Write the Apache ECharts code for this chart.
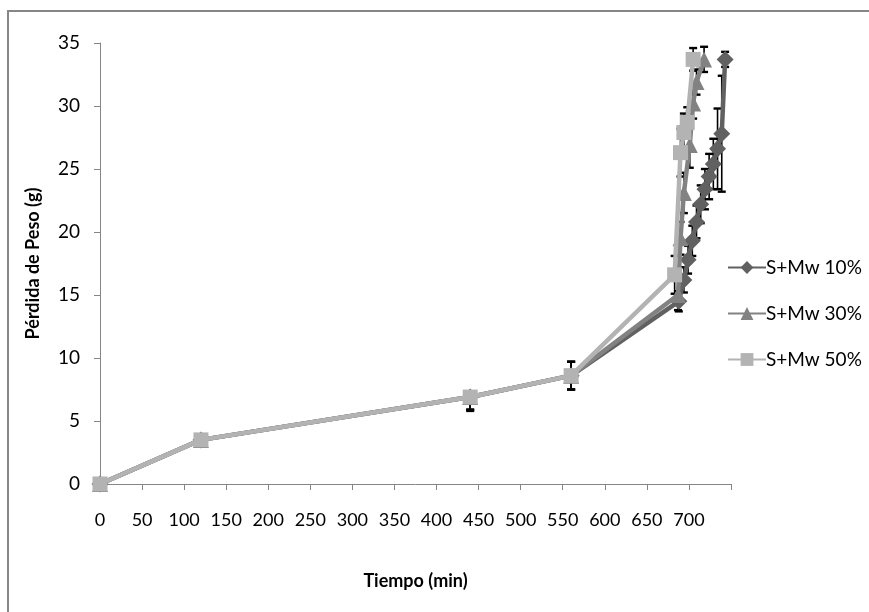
<!DOCTYPE html>
<html>
<head>
<meta charset="utf-8">
<script src="https://cdn.jsdelivr.net/npm/echarts@6/dist/echarts.min.js"></script>
<style>
  html, body { margin: 0; padding: 0; background: #fff; }
  #chart { width: 869px; height: 612px; }
</style>
</head>
<body>
<div id="chart"></div>
<script>
// Weight loss over drying time, three microwave power levels, with error bars
const seriesNames = ['S+Mw 10%', 'S+Mw 30%', 'S+Mw 50%'];

const time10  = [0, 120, 440, 560, 688, 694, 699, 704, 709, 714, 719, 724, 729, 734, 739, 743];
const loss10  = [0, 3.5, 6.9, 8.6, 14.5, 16.2, 17.8, 19.3, 20.8, 22.2, 23.4, 24.4, 25.4, 26.6, 27.8, 33.7];
const errUp10 = [0, 0, 0.3, 1.1, 0.8, 1.0, 1.1, 1.2, 1.3, 1.5, 1.6, 1.8, 2.0, 3.2, 4.6, 0.6];
const errDn10 = [0, 0, 1.1, 1.1, 0.8, 1.0, 1.1, 1.2, 1.3, 1.5, 1.6, 1.8, 2.0, 3.2, 4.6, 0.6];

const time30  = [0, 120, 440, 560, 687, 690, 694, 701, 705, 709, 718];
const loss30  = [0, 3.5, 6.9, 8.6, 15.0, 19.5, 23.1, 26.9, 30.2, 31.9, 33.7];
const errUp30 = [0, 0, 0.3, 1.1, 1.2, 1.3, 1.6, 1.8, 1.2, 1.0, 1.0];
const errDn30 = [0, 0, 1.0, 1.1, 1.2, 1.3, 1.6, 1.8, 1.2, 1.0, 1.0];

const time50  = [0, 120, 440, 560, 683, 690, 694, 698, 705];
const loss50  = [0, 3.5, 6.9, 8.6, 16.6, 26.3, 27.9, 28.7, 33.7];
const errUp50 = [0, 0, 0.3, 1.1, 1.5, 1.9, 1.5, 1.2, 0.9];
const errDn50 = [0, 0, 1.0, 1.1, 1.5, 1.9, 1.5, 1.2, 0.9];

const xTicksMax = 700;   // last labelled tick on the time axis

const FONT = "Lato, 'Open Sans', sans-serif";
const colors = ['#616161', '#828282', '#b3b3b3'];
const symbols = ['diamond', 'triangle', 'rect'];
const symbolSizes = [17, 16, 15];

const groups = [
  { t: time10, v: loss10, up: errUp10, dn: errDn10 },
  { t: time30, v: loss30, up: errUp30, dn: errDn30 },
  { t: time50, v: loss50, up: errUp50, dn: errDn50 }
];

function pairs(t, v) { return t.map((x, i) => [x, v[i]]); }
function rows(g) { return g.t.map((x, i) => [x, g.v[i], g.up[i], g.dn[i]]); }

function renderErrorBar(params, api) {
  const x = api.value(0), y = api.value(1);
  const up = api.value(2), dn = api.value(3);
  const hi = api.coord([x, y + up]);
  const lo = api.coord([x, y - dn]);
  const cap = 4;
  const bar = { stroke: '#000', lineWidth: 1.6 };
  const capStyle = { stroke: '#000', lineWidth: 2.4 };
  const children = [];
  if (up > 0 || dn > 0) {
    children.push({ type: 'line', shape: { x1: hi[0], y1: hi[1], x2: lo[0], y2: lo[1] }, style: bar });
  }
  if (up > 0) {
    children.push({ type: 'line', shape: { x1: hi[0] - cap, y1: hi[1], x2: hi[0] + cap, y2: hi[1] }, style: capStyle });
  }
  if (dn > 0) {
    children.push({ type: 'line', shape: { x1: lo[0] - cap, y1: lo[1], x2: lo[0] + cap, y2: lo[1] }, style: capStyle });
  }
  return { type: 'group', children };
}

const series = [];
groups.forEach((g, i) => {
  series.push({
    name: seriesNames[i] + ' error',
    type: 'custom',
    renderItem: renderErrorBar,
    data: rows(g),
    z: 1,
    silent: true,
    encode: { x: 0, y: 1 }
  });
});
groups.forEach((g, i) => {
  series.push({
    name: seriesNames[i],
    type: 'line',
    data: pairs(g.t, g.v),
    symbol: symbols[i],
    symbolSize: symbolSizes[i],
    showAllSymbol: true,
    lineStyle: { color: colors[i], width: 4.5 },
    itemStyle: { color: colors[i] },
    z: 2 + i
  });
});

const chart = echarts.init(document.getElementById('chart'), null, { renderer: 'canvas' });
chart.setOption({
  animation: false,
  backgroundColor: '#ffffff',
  textStyle: { fontFamily: FONT },
  graphic: [{
    type: 'rect',
    shape: { x: 8, y: 11, width: 900, height: 700 },
    style: { fill: 'none', stroke: '#868686', lineWidth: 2 },
    z: -1
  }],
  grid: { left: 100, right: 138, top: 43, bottom: 128, containLabel: false },
  legend: {
    data: seriesNames,
    orient: 'vertical',
    left: 722,
    top: 253,
    itemWidth: 38,
    itemHeight: 16,
    itemGap: 27,
    textStyle: { fontFamily: FONT, fontSize: 19, color: '#000', padding: [0, 0, 0, -5] }
  },
  xAxis: {
    type: 'value',
    min: 0,
    max: 750,
    interval: 50,
    name: 'Tiempo (min)',
    nameLocation: 'middle',
    nameGap: 88,
    nameTextStyle: { fontFamily: FONT, fontSize: 18, fontWeight: 'bold', color: '#000' },
    axisLine: { show: true, onZero: false, lineStyle: { color: '#868686', width: 1 } },
    axisTick: { show: true, length: 6, lineStyle: { color: '#868686' } },
    axisLabel: {
      margin: 27, fontSize: 18, color: '#000', fontFamily: FONT,
      formatter: v => (v <= xTicksMax ? String(v) : '')
    },
    splitLine: { show: false }
  },
  yAxis: {
    type: 'value',
    min: 0,
    max: 35,
    interval: 5,
    name: 'Pérdida de Peso (g)',
    nameLocation: 'middle',
    nameGap: 58,
    nameRotate: 90,
    nameTextStyle: { fontFamily: FONT, fontSize: 18, fontWeight: 'bold', color: '#000' },
    axisLine: { show: true, lineStyle: { color: '#868686', width: 1 } },
    axisTick: { show: true, length: 6, lineStyle: { color: '#868686' } },
    axisLabel: { margin: 20, fontSize: 19, color: '#000', fontFamily: FONT },
    splitLine: { show: false }
  },
  series: series
});
</script>
</body>
</html>
